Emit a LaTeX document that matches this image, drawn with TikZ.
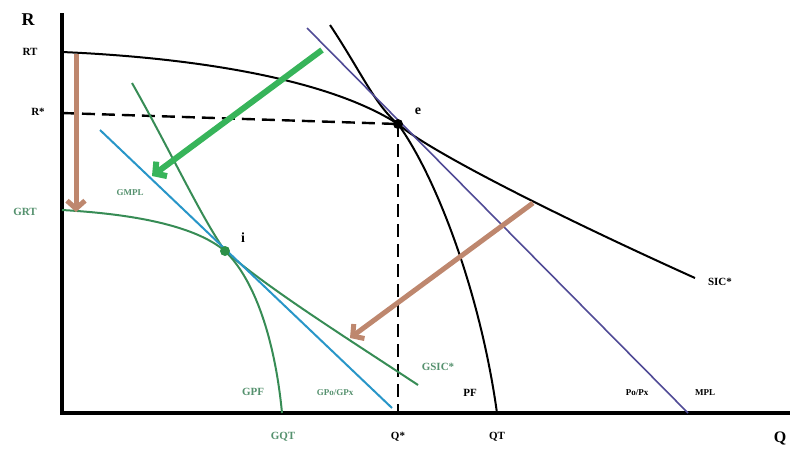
\documentclass[tikz,border=0pt]{standalone}
\usepackage{fontspec}
\setmainfont{Liberation Serif}
\usetikzlibrary{arrows.meta}
\definecolor{gcurve}{RGB}{55,140,85}
\definecolor{garrow}{RGB}{55,180,90}
\definecolor{brownarr}{RGB}{190,135,110}
\definecolor{pline}{RGB}{80,75,150}
\definecolor{bline}{RGB}{40,150,200}
\definecolor{glabel}{RGB}{85,145,110}

\begin{document}
\begin{tikzpicture}[x=1pt,y=-1pt,
    lbl/.style={font=\bfseries\fontsize{11}{13}\selectfont,inner sep=1pt},
    smalllbl/.style={font=\bfseries\fontsize{9}{11}\selectfont,inner sep=1pt},
    glbl/.style={lbl,text=glabel},
    axis/.style={line width=4pt},
    curve/.style={line width=2pt},
    guide/.style={line width=2.4pt,dash pattern=on 13pt off 7pt},
    movearrow/.style={line width=5pt,-{Straight Barb[length=8pt,width=18pt]}}]
    \useasboundingbox (0,0) rectangle (790,448);
    \clip (0,0) rectangle (790,448);
    % key points
    \coordinate (origin) at (62,413);
    \coordinate (ytop) at (62,13);
    \coordinate (xend) at (790,413);
    \coordinate (e) at (398,124);
    \coordinate (i) at (225,251);
    \coordinate (rstar) at (62,113);
    \coordinate (qstar) at (398,413);
    % axes
    \draw[axis] (ytop)--(62,415);
    \draw[axis] (60,413)--(xend);
    % dashed guides
    \draw[guide] (rstar)--(e);
    \draw[guide] (e)--(qstar);
    % PF and SIC*
    \draw[curve] (62,52) .. controls (200,58) and (330,80) .. (e)
        .. controls (435,175) and (480,290) .. (497,413);
    \draw[curve] (330,25) .. controls (360,70) and (375,105) .. (e)
        .. controls (425,148) and (540,208) .. (695,278);
    \draw[pline,line width=1.6pt] (307,28)--(688,413);
    % green frontier and indifference curve
    \draw[curve,gcurve] (62,210) .. controls (150,215) and (200,230) .. (i)
        .. controls (255,280) and (275,340) .. (282,413);
    \draw[curve,gcurve] (132,83) .. controls (170,150) and (200,215) .. (i)
        .. controls (270,290) and (350,340) .. (418,385);
    \draw[bline,line width=2pt] (100,130)--(392,408);
    % shift arrows
    \draw[movearrow,brownarr] (76,54)--(76,212);
    \draw[movearrow,garrow,line width=6pt] (322,50)--(152,176);
    \draw[movearrow,brownarr] (533,203)--(350,338);
    % points
    \fill (e) circle (5pt);
    \fill[garrow!80!black] (i) circle (5pt);
    % labels
    \node[font=\bfseries\fontsize{18}{20}\selectfont] (rlab) at (28,20) {R};
    \node[lbl] (rtlab) at (30,52) {RT};
    \node[lbl] (rslab) at (38,112) {R*};
    \node[glbl] (grtlab) at (25,212) {GRT};
    \node[smalllbl,text=glabel] (gmpllab) at (130,193) {GMPL};
    \node[font=\bfseries\fontsize{14}{16}\selectfont] (ilab) at (243,238) {i};
    \node[font=\bfseries\fontsize{14}{16}\selectfont] (elab) at (418,111) {e};
    \node[lbl] (siclab) at (720,282) {SIC*};
    \node[smalllbl] (pplab) at (637,393) {Po/Px};
    \node[smalllbl] (mpllab) at (705,393) {MPL};
    \node[lbl] (pflab) at (470,393) {PF};
    \node[glbl] (gpflab) at (253,392) {GPF};
    \node[smalllbl,text=glabel] (gpplab) at (335,393) {GPo/GPx};
    \node[glbl] (gsiclab) at (438,367) {GSIC*};
    \node[glbl] (gqtlab) at (283,437) {GQT};
    \node[lbl] (qslab) at (398,437) {Q*};
    \node[lbl] (qtlab) at (497,437) {QT};
    \node[font=\bfseries\fontsize{16}{18}\selectfont] (qlab) at (780,438) {Q};
\end{tikzpicture}
\end{document}
